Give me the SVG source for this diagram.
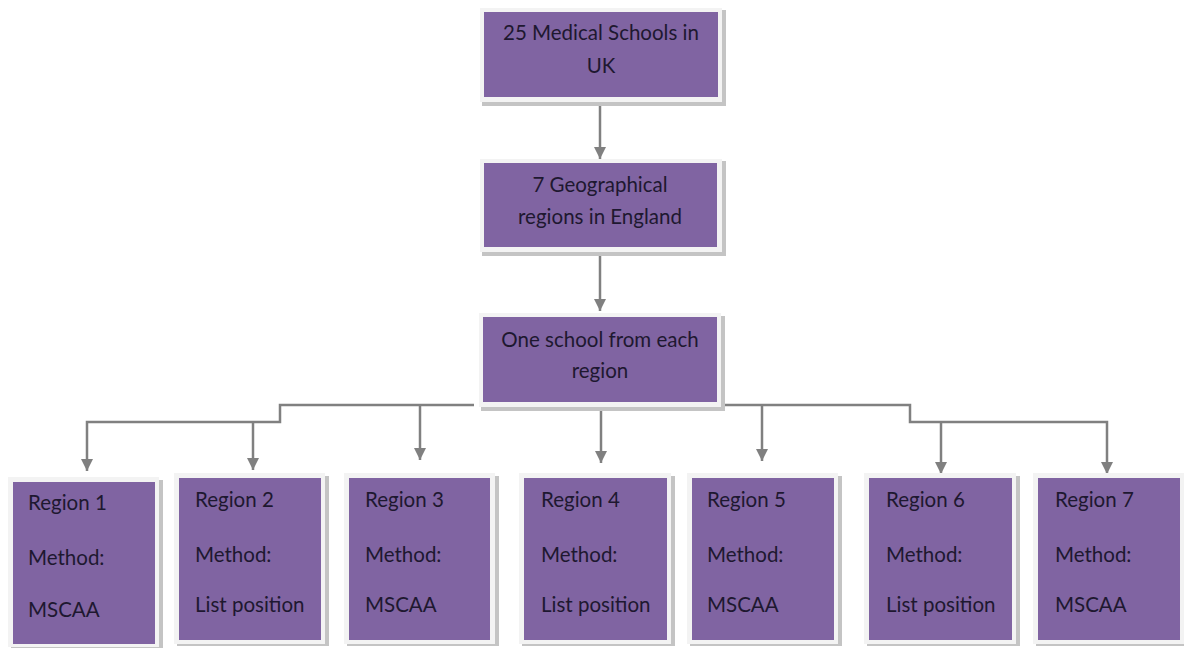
<svg xmlns="http://www.w3.org/2000/svg" width="1184" height="648" viewBox="0 0 1184 648">
<defs>
<style>
.sh{fill:#c4c4c4}
.fr{fill:#f3f3f3}
.bx{fill:#8064a2}
.t{font-family:Lato,"Open Sans","Liberation Sans",sans-serif;font-size:20.5px;fill:#1e1830}
.c{text-anchor:middle}
.ln{fill:none;stroke:#808080;stroke-width:2.5}
</style>
<marker id="ah" markerUnits="userSpaceOnUse" markerWidth="14" markerHeight="12" refX="12" refY="6" orient="auto">
<path d="M0,0 L12,6 L0,12 Z" fill="#808080"/>
</marker>
</defs>
<rect width="1184" height="648" fill="#ffffff"/>
<g id="connectors">
<path class="ln" d="M600,104 V159" marker-end="url(#ah)"/>
<path class="ln" d="M600,254 V311" marker-end="url(#ah)"/>
<path class="ln" d="M474,405 H280 V422 H87 V471" marker-end="url(#ah)"/>
<path class="ln" d="M253,422 V470" marker-end="url(#ah)"/>
<path class="ln" d="M420,405 V460" marker-end="url(#ah)"/>
<path class="ln" d="M601,410 V463" marker-end="url(#ah)"/>
<path class="ln" d="M714,405 H910 V422 H1107 V474" marker-end="url(#ah)"/>
<path class="ln" d="M762,405 V461" marker-end="url(#ah)"/>
<path class="ln" d="M941,422 V474" marker-end="url(#ah)"/>
</g>
<g id="n1">
<rect class="sh" x="482" y="10" width="244" height="96"/>
<rect class="fr" x="480" y="8" width="242" height="94"/>
<rect class="bx" x="484" y="12" width="234" height="85"/>
<text class="t c" x="601" y="40">25 Medical Schools in</text>
<text class="t c" x="601" y="73">UK</text>
</g>
<g id="n2">
<rect class="sh" x="482" y="161" width="244" height="95"/>
<rect class="fr" x="480" y="159" width="242" height="93"/>
<rect class="bx" x="484" y="163" width="233" height="84"/>
<text class="t c" x="600" y="192">7 Geographical</text>
<text class="t c" x="600" y="224">regions in England</text>
</g>
<g id="n3">
<rect class="sh" x="481" y="316" width="244" height="95"/>
<rect class="fr" x="479" y="313" width="242" height="94"/>
<rect class="bx" x="483" y="317" width="234" height="85"/>
<text class="t c" x="600" y="347">One school from each</text>
<text class="t c" x="600" y="378">region</text>
</g>
<g id="r1">
<rect class="sh" x="11" y="480" width="152" height="170"/>
<rect class="fr" x="8" y="477" width="151" height="170"/>
<rect class="bx" x="13" y="482" width="142" height="162"/>
<text class="t" x="28" y="510">Region 1</text>
<text class="t" x="28" y="565">Method:</text>
<text class="t" x="28" y="617">MSCAA</text>
</g>
<g id="r2">
<rect class="sh" x="177" y="476" width="152" height="170"/>
<rect class="fr" x="174" y="473" width="151" height="171"/>
<rect class="bx" x="179" y="478" width="142" height="162"/>
<text class="t" x="195" y="507">Region 2</text>
<text class="t" x="195" y="562">Method:</text>
<text class="t" x="195" y="612">List position</text>
</g>
<g id="r3">
<rect class="sh" x="347" y="476" width="152" height="170"/>
<rect class="fr" x="344" y="473" width="151" height="171"/>
<rect class="bx" x="349" y="478" width="141" height="162"/>
<text class="t" x="365" y="507">Region 3</text>
<text class="t" x="365" y="562">Method:</text>
<text class="t" x="365" y="612">MSCAA</text>
</g>
<g id="r4">
<rect class="sh" x="522" y="476" width="153" height="170"/>
<rect class="fr" x="519" y="473" width="152" height="171"/>
<rect class="bx" x="524" y="478" width="143" height="162"/>
<text class="t" x="541" y="507">Region 4</text>
<text class="t" x="541" y="562">Method:</text>
<text class="t" x="541" y="612">List position</text>
</g>
<g id="r5">
<rect class="sh" x="690" y="476" width="152" height="170"/>
<rect class="fr" x="687" y="473" width="151" height="171"/>
<rect class="bx" x="692" y="478" width="142" height="162"/>
<text class="t" x="707" y="507">Region 5</text>
<text class="t" x="707" y="562">Method:</text>
<text class="t" x="707" y="612">MSCAA</text>
</g>
<g id="r6">
<rect class="sh" x="867" y="476" width="153" height="170"/>
<rect class="fr" x="864" y="473" width="152" height="171"/>
<rect class="bx" x="869" y="478" width="143" height="162"/>
<text class="t" x="886" y="507">Region 6</text>
<text class="t" x="886" y="562">Method:</text>
<text class="t" x="886" y="612">List position</text>
</g>
<g id="r7">
<rect class="sh" x="1036" y="476" width="152" height="170"/>
<rect class="fr" x="1033" y="473" width="151" height="171"/>
<rect class="bx" x="1038" y="478" width="142" height="162"/>
<text class="t" x="1055" y="507">Region 7</text>
<text class="t" x="1055" y="562">Method:</text>
<text class="t" x="1055" y="612">MSCAA</text>
</g>
</svg>
